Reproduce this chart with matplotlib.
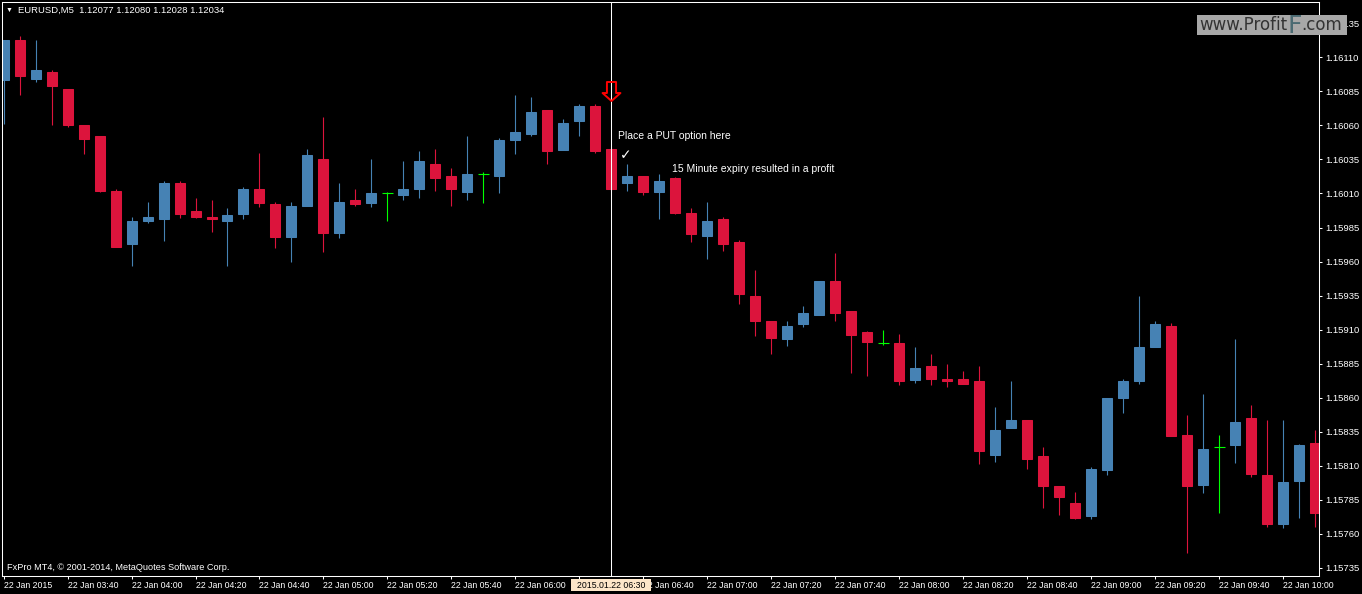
import numpy as np
import pandas as pd
import matplotlib
matplotlib.use("Agg")
import matplotlib.pyplot as plt
from matplotlib.path import Path
from matplotlib.patches import Rectangle

plt.rcParams['font.family'] = ['Liberation Sans', 'DejaVu Sans']

# EURUSD M5 bars, 22 Jan 2015 from 03:20
opens = [1.16093, 1.16123, 1.16094, 1.16099, 1.16087, 1.16060, 1.16052, 1.16012, 1.15973, 1.15990,
         1.15991, 1.16018, 1.15997, 1.15993, 1.15990, 1.15995, 1.16013, 1.16002, 1.15978, 1.16001,
         1.16035, 1.15981, 1.16005, 1.16003, 1.16010, 1.16009, 1.16013, 1.16032, 1.16023, 1.16011,
         1.16024, 1.16023, 1.16049, 1.16054, 1.16071, 1.16042, 1.16063, 1.16074, 1.16043, 1.16018,
         1.16023, 1.16011, 1.16021, 1.15996, 1.15979, 1.15991, 1.15974, 1.15935, 1.15916, 1.15903,
         1.15914, 1.15921, 1.15946, 1.15924, 1.15908, 1.15900, 1.15900, 1.15873, 1.15883, 1.15874,
         1.15874, 1.15872, 1.15818, 1.15838, 1.15844, 1.15817, 1.15795, 1.15783, 1.15773, 1.15807,
         1.15860, 1.15872, 1.15897, 1.15913, 1.15833, 1.15796, 1.15824, 1.15825, 1.15845, 1.15803,
         1.15767, 1.15799, 1.15827]
highs = [1.16123, 1.16126, 1.16123, 1.16101, 1.16087, 1.16060, 1.16052, 1.16013, 1.15993, 1.16004,
         1.16019, 1.16019, 1.16007, 1.16005, 1.15999, 1.16015, 1.16040, 1.16004, 1.16004, 1.16043,
         1.16066, 1.16018, 1.16013, 1.16035, 1.16011, 1.16034, 1.16041, 1.16043, 1.16029, 1.16052,
         1.16026, 1.16051, 1.16082, 1.16081, 1.16071, 1.16065, 1.16076, 1.16076, 1.16044, 1.16032,
         1.16023, 1.16024, 1.16022, 1.15999, 1.16004, 1.15993, 1.15976, 1.15954, 1.15916, 1.15916,
         1.15927, 1.15946, 1.15966, 1.15924, 1.15909, 1.15910, 1.15907, 1.15897, 1.15892, 1.15885,
         1.15880, 1.15883, 1.15853, 1.15872, 1.15844, 1.15824, 1.15795, 1.15791, 1.15809, 1.15860,
         1.15874, 1.15935, 1.15916, 1.15915, 1.15847, 1.15863, 1.15833, 1.15903, 1.15855, 1.15844,
         1.15844, 1.15826, 1.15836]
lows = [1.16061, 1.16082, 1.16092, 1.16060, 1.16059, 1.16039, 1.16011, 1.15971, 1.15957, 1.15988,
        1.15975, 1.15992, 1.15992, 1.15982, 1.15957, 1.15991, 1.16000, 1.15970, 1.15960, 1.16001,
        1.15967, 1.15977, 1.16001, 1.16000, 1.15990, 1.16005, 1.16007, 1.16012, 1.16001, 1.16005,
        1.16003, 1.16010, 1.16039, 1.16052, 1.16032, 1.16042, 1.16052, 1.16040, 1.16012, 1.16012,
        1.16009, 1.15991, 1.15995, 1.15974, 1.15962, 1.15968, 1.15929, 1.15905, 1.15892, 1.15898,
        1.15912, 1.15921, 1.15916, 1.15878, 1.15876, 1.15899, 1.15869, 1.15871, 1.15869, 1.15868,
        1.15870, 1.15811, 1.15813, 1.15838, 1.15808, 1.15779, 1.15774, 1.15771, 1.15771, 1.15803,
        1.15849, 1.15870, 1.15897, 1.15832, 1.15746, 1.15790, 1.15775, 1.15812, 1.15802, 1.15765,
        1.15764, 1.15772, 1.15765]
closes = [1.16123, 1.16096, 1.16101, 1.16089, 1.16060, 1.16050, 1.16012, 1.15971, 1.15990, 1.15993,
          1.16018, 1.15995, 1.15993, 1.15991, 1.15994, 1.16013, 1.16003, 1.15978, 1.16001, 1.16038,
          1.15981, 1.16004, 1.16002, 1.16010, 1.16010, 1.16013, 1.16034, 1.16021, 1.16013, 1.16024,
          1.16024, 1.16049, 1.16055, 1.16070, 1.16041, 1.16062, 1.16074, 1.16041, 1.16013, 1.16023,
          1.16011, 1.16019, 1.15996, 1.15980, 1.15990, 1.15973, 1.15936, 1.15916, 1.15904, 1.15913,
          1.15922, 1.15946, 1.15922, 1.15906, 1.15901, 1.15900, 1.15872, 1.15882, 1.15874, 1.15872,
          1.15870, 1.15821, 1.15836, 1.15844, 1.15815, 1.15795, 1.15787, 1.15772, 1.15808, 1.15860,
          1.15872, 1.15897, 1.15914, 1.15832, 1.15795, 1.15822, 1.15824, 1.15842, 1.15804, 1.15767,
          1.15798, 1.15825, 1.15775]

price_ticks = [1.15735, 1.15760, 1.15785, 1.15810, 1.15835, 1.15860, 1.15885, 1.15910, 1.15935,
               1.15960, 1.15985, 1.16010, 1.16035, 1.16060, 1.16085, 1.16110, 1.16135]

signal_bar = 38          # 06:30 bar, where the PUT was placed
arrow_price = 1.16085
check_price = 1.16038

o = np.array(opens)
h = np.array(highs)
l = np.array(lows)
c = np.array(closes)
x = np.arange(len(o))
times = pd.date_range('2015-01-22 03:20', periods=len(o), freq='5min')

BLUE, RED, GREEN = '#4682b4', '#dc143c', '#00ff00'
cols = np.where(c > o, BLUE, np.where(c < o, RED, GREEN))
flat = c == o

W, H = 1362, 594
fig = plt.figure(figsize=(W / 100, H / 100), dpi=100, facecolor='black')
ax = fig.add_axes([2 / W, 18 / H, 1317 / W, 574 / H], facecolor='black')

# candles
ax.vlines(x, l, h, colors=cols, lw=0.8)
ax.bar(x[~flat], np.abs(c - o)[~flat], bottom=np.minimum(o, c)[~flat], width=0.625,
       color=cols[~flat], edgecolor=cols[~flat], linewidth=0.75)
ax.hlines(o[flat], x[flat] - 0.34, x[flat] + 0.34, colors=GREEN, lw=0.8)

ax.set_xlim(-0.094, 82.22)
ax.set_ylim(1.157291, 1.161506)

for s in ax.spines.values():
    s.set_color('white')
    s.set_linewidth(0.75)

# x axis
tick_idx = x[::4]
labels = ['22 Jan 2015'] + [t.strftime('%d %b %H:%M') for t in times[tick_idx[1:]]]
ax.set_xticks(tick_idx, labels=labels)
for lbl in ax.get_xticklabels():
    lbl.set_ha('left')
ax.tick_params(axis='x', colors='white', length=2.2, width=0.75, pad=1.5, labelsize=6.3)

# y axis on the right
ax.yaxis.tick_right()
ax.set_yticks(price_ticks, labels=[f'{v:.5f}' for v in price_ticks])
ax.tick_params(axis='y', colors='white', length=2.2, width=0.75, pad=2, labelsize=6.8)

# signal line, arrow and notes
ax.axvline(signal_bar, color='white', lw=0.75)
arrow = Path([(-0.24, 0.5), (0.24, 0.5), (0.24, -0.08), (0.47, -0.08), (0, -0.5),
              (-0.47, -0.08), (-0.24, -0.08), (-0.24, 0.5)], closed=True)
ax.plot(signal_bar, arrow_price, marker=arrow, ms=13.7, mfc='none', mec='red', mew=1.4)
ax.text(signal_bar + 0.9, check_price, '\u2713', color='white', fontsize=10,
        fontweight='bold', ha='center', va='center', family=['DejaVu Sans'])
ax.text(signal_bar + 0.4, 1.16052, 'Place a PUT option here', color='white',
        fontsize=7.5, va='center', ha='left')
ax.text(signal_bar + 3.76, 1.16028, '15 Minute expiry resulted in a profit', color='white',
        fontsize=7.5, va='center', ha='left')

# highlighted time on the x axis
xt = ax.get_xaxis_transform()
ax.add_patch(Rectangle((signal_bar - 2.5, -15 / 574), 5, 12 / 574, transform=xt,
                       fc='#fde6c9', ec='none', clip_on=False, zorder=9))
ax.text(signal_bar, -9 / 574, times[signal_bar].strftime('%Y.%m.%d %H:%M'), transform=xt,
        ha='center', va='center', fontsize=6.3, color='black', zorder=10, clip_on=False)

# header and footer
fig.text(9.5 / W, 1 - 10.5 / H, '\u25bc', fontsize=5, color='white', ha='center', va='center')
fig.text(18 / W, 1 - 10 / H, 'EURUSD,M5  1.12077 1.12080 1.12028 1.12034', fontsize=6.8,
         color='white', va='center')
fig.text(7 / W, 1 - 568 / H, 'FxPro MT4, \u00a9 2001-2014, MetaQuotes Software Corp.',
         fontsize=6.6, color='white', va='center')

# watermark
fig.patches.append(Rectangle((1197 / W, 1 - 35 / H), 150 / W, 20 / H, transform=fig.transFigure,
                             fc='#a8a8a8', ec='none', zorder=5))
r = fig.canvas.get_renderer()
t1 = fig.text(1199 / W, 1 - 29.5 / H, 'www.Profit', fontsize=12, color='#333333',
              va='baseline', family=['DejaVu Sans'], zorder=6)
x1 = t1.get_window_extent(r).x1
t2 = fig.text(x1 / W, 1 - 33 / H, 'F', fontsize=18, color='#4a6a72', va='baseline',
              family=['DejaVu Sans'], zorder=6)
x2 = t2.get_window_extent(r).x1
fig.text(x2 / W, 1 - 29.5 / H, '.com', fontsize=12, color='#333333', va='baseline',
         family=['DejaVu Sans'], zorder=6)

fig.savefig('out.png', dpi=100, facecolor='black')
